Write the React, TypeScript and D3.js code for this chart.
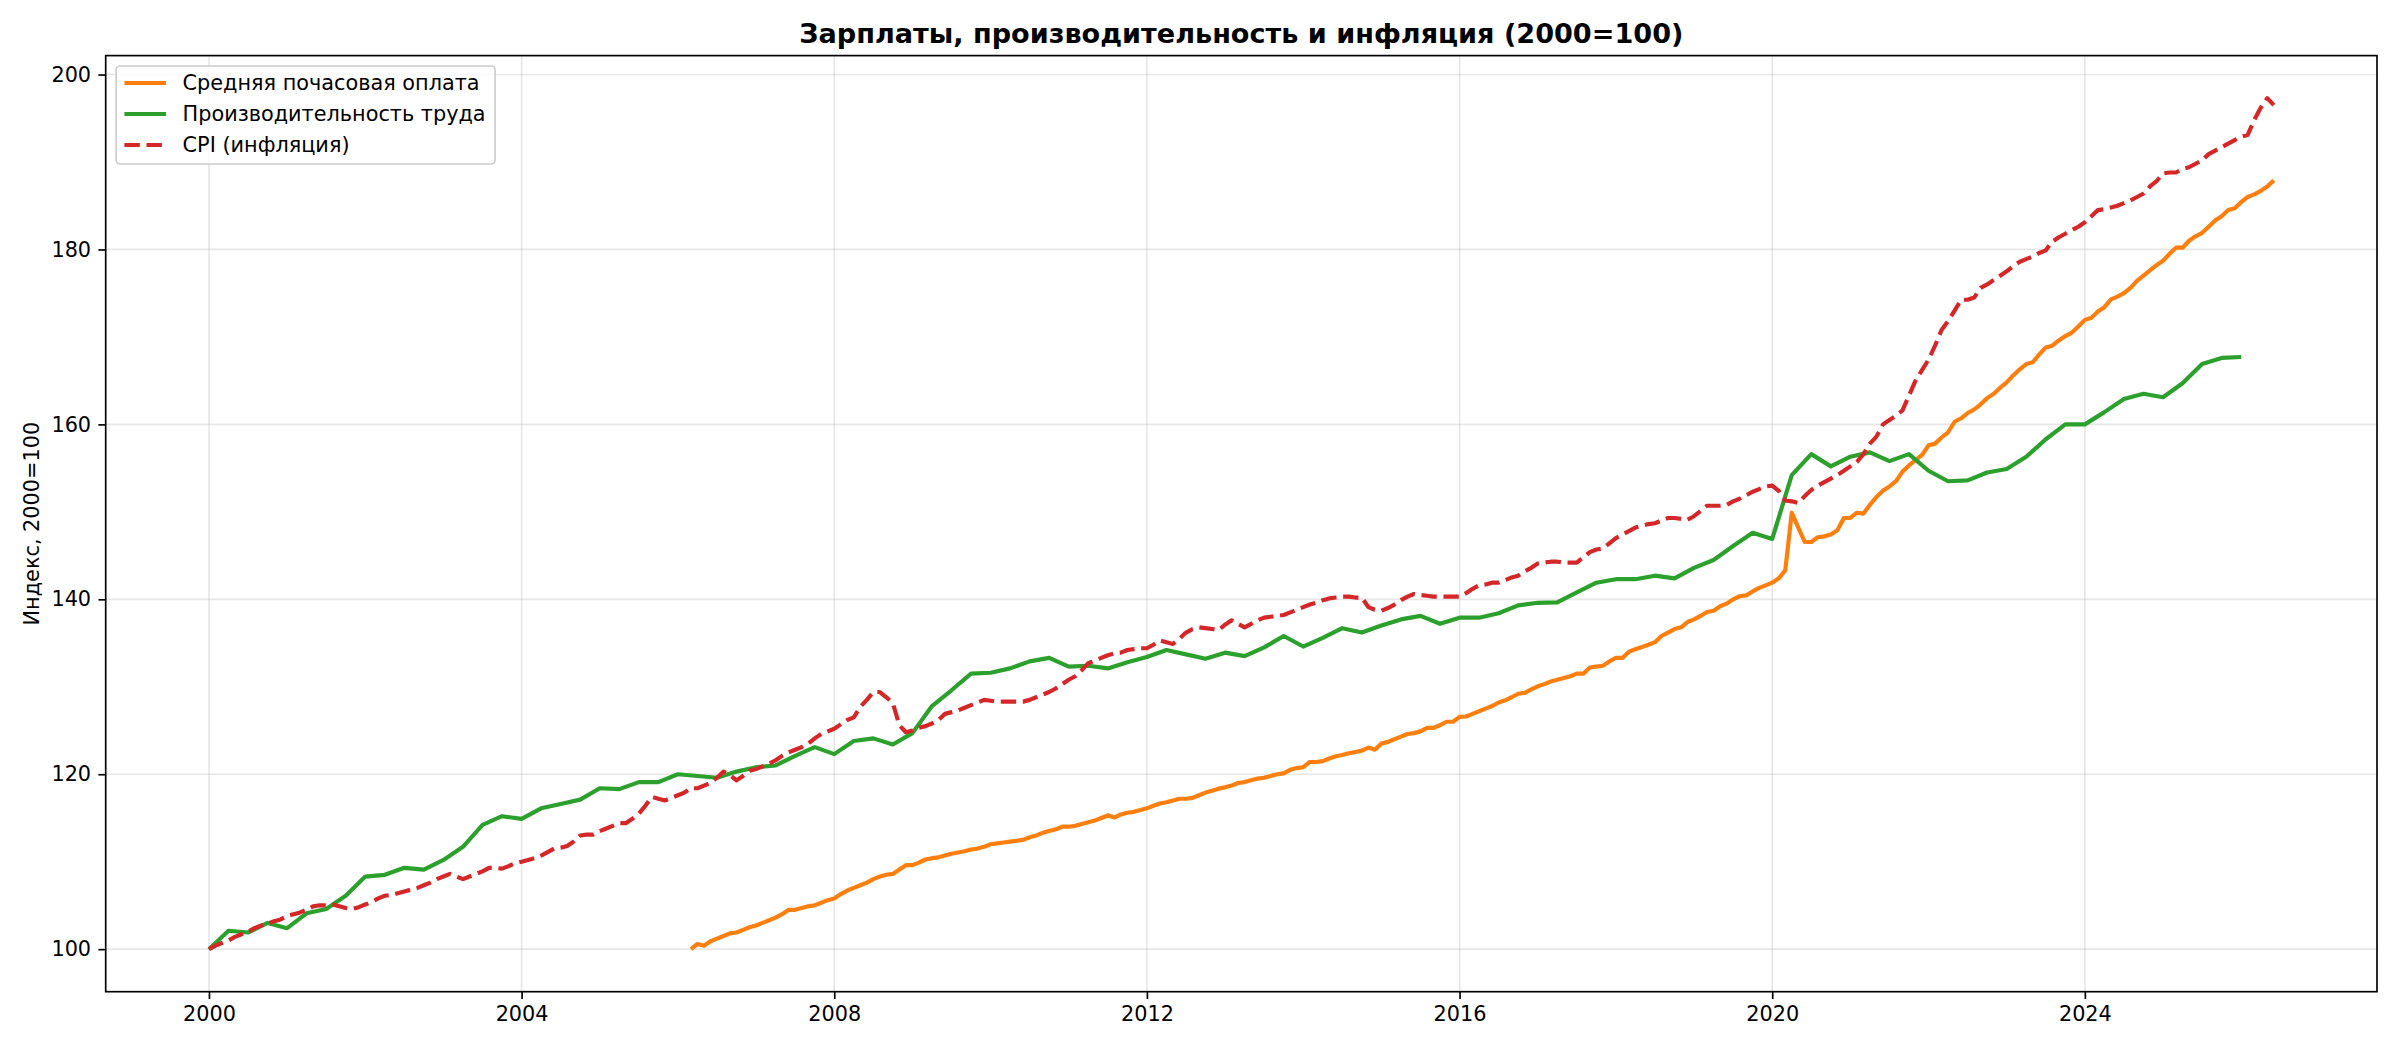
import * as d3 from "d3";
import { useEffect, useRef } from "react";

const title = "Зарплаты, производительность и инфляция (2000=100)";
const yLabel = "Индекс, 2000=100";
const seriesNames = ["Средняя почасовая оплата", "Производительность труда", "CPI (инфляция)"];
const seriesColors = ["#ff7f0e", "#2ca02c", "#d62728"];
const xTicks = [2000, 2004, 2008, 2012, 2016, 2020, 2024];
const yTicks = [100, 120, 140, 160, 180, 200];

// monthly, from March 2006
const wageStart = 2006 + 2 / 12;
const wageValues = [
  100.0, 100.6, 100.4, 100.9, 101.2, 101.5, 101.8, 101.9, 102.2, 102.5,
  102.7, 103.0, 103.3, 103.6, 104.0, 104.5, 104.5, 104.7, 104.9, 105.0, 105.3, 105.6,
  105.8, 106.3, 106.7, 107.0, 107.3, 107.6, 108.0, 108.3, 108.5, 108.6, 109.1, 109.6,
  109.6, 109.9, 110.25, 110.4, 110.5, 110.7, 110.9, 111.05, 111.2, 111.4, 111.5, 111.7,
  112.0, 112.1, 112.2, 112.3, 112.4, 112.5, 112.8, 113.0, 113.3, 113.5, 113.7, 114.0,
  114.0, 114.1, 114.3, 114.5, 114.7, 115.0, 115.3, 115.05, 115.4, 115.6, 115.7, 115.9,
  116.1, 116.4, 116.65, 116.8, 117.0, 117.2, 117.2, 117.3, 117.6, 117.9, 118.1, 118.35,
  118.5, 118.7, 119.0, 119.1, 119.3, 119.5, 119.6, 119.8, 120.0, 120.1, 120.5, 120.7,
  120.8, 121.4, 121.4, 121.5, 121.8, 122.05, 122.2, 122.4, 122.55, 122.7, 123.05, 122.8,
  123.5, 123.7, 124.0, 124.3, 124.6, 124.7, 124.9, 125.3, 125.3, 125.6, 126.0, 126.0,
  126.55, 126.6, 126.9, 127.2, 127.5, 127.8, 128.2, 128.45, 128.8, 129.2, 129.3, 129.7,
  130.05, 130.3, 130.6, 130.8, 131.0, 131.2, 131.5, 131.5, 132.2, 132.3, 132.4, 132.9,
  133.3, 133.3, 134.0, 134.3, 134.55, 134.8, 135.1, 135.8, 136.2, 136.6, 136.8, 137.4,
  137.7, 138.1, 138.55, 138.7, 139.2, 139.5, 140.0, 140.35, 140.45, 140.9, 141.3, 141.6,
  141.9, 142.4, 143.3, 149.9, 148.2, 146.55, 146.55, 147.1, 147.2, 147.4, 147.9, 149.3,
  149.3, 149.9, 149.8, 150.8, 151.7, 152.4, 152.9, 153.5, 154.6, 155.3, 155.9, 156.5,
  157.6, 157.8, 158.5, 159.1, 160.3, 160.7, 161.3, 161.7, 162.3, 163.0, 163.5, 164.2,
  164.8, 165.6, 166.3, 166.9, 167.1, 168.0, 168.8, 169.0, 169.6, 170.1, 170.5, 171.2,
  171.95, 172.2, 172.9, 173.4, 174.3, 174.6, 175.0, 175.6, 176.4, 177.0, 177.6, 178.2,
  178.7, 179.5, 180.2, 180.2, 181.0, 181.5, 181.9, 182.6, 183.3, 183.8, 184.5, 184.7,
  185.4, 186.0, 186.3, 186.7, 187.2, 187.9,
];

// quarterly, from Q1 2000
const prodStart = 2000;
const prodValues = [
  100.0, 102.1, 101.9, 103.0,
  102.4, 104.1, 104.6, 106.1,
  108.3, 108.5, 109.3, 109.1,
  110.2, 111.7, 114.2, 115.2,
  114.9, 116.1, 116.6, 117.1,
  118.4, 118.3, 119.1, 119.1,
  120.0, 119.8, 119.6, 120.3,
  120.8, 121.0, 122.1, 123.1,
  122.3, 123.8, 124.1, 123.4,
  124.7, 127.8, 129.6, 131.5,
  131.6, 132.1, 132.9, 133.3,
  132.3, 132.4, 132.1, 132.8,
  133.4, 134.2, 133.7, 133.2,
  133.9, 133.5, 134.5, 135.8,
  134.6, 135.6, 136.7, 136.2,
  137.0, 137.7, 138.1, 137.2,
  137.9, 137.9, 138.4, 139.3,
  139.6, 139.65, 140.8, 141.9,
  142.3, 142.3, 142.7, 142.4,
  143.6, 144.5, 146.1, 147.6,
  146.9, 154.2, 156.6, 155.2,
  156.3, 156.8, 155.8, 156.6,
  154.7, 153.5, 153.6, 154.5,
  154.9, 156.3, 158.3, 160.0,
  160.0, 161.4, 162.9, 163.5,
  163.1, 164.7, 166.9, 167.6,
  167.7,
];

// monthly, from January 2000
const cpiStart = 2000;
const cpiValues = [
  100.0, 100.4, 100.7, 101.0, 101.4, 101.7, 102.0, 102.4, 102.7, 102.9, 103.2, 103.4,
  103.8, 104.0, 104.2, 104.5, 104.9, 105.0, 105.0, 105.1, 104.9, 104.7, 104.6, 104.8,
  105.1, 105.4, 105.8, 106.1, 106.2, 106.4, 106.6, 106.8, 107.0, 107.3, 107.6, 108.0,
  108.3, 108.6, 108.3, 108.0, 108.3, 108.6, 108.9, 109.3, 109.3, 109.2, 109.5, 109.8,
  110.0, 110.2, 110.4, 110.7, 111.1, 111.5, 111.6, 111.8, 112.3, 113.0, 113.1, 113.1,
  113.5, 113.8, 114.1, 114.4, 114.4, 114.9, 115.5, 116.4, 117.4, 117.2, 117.0, 117.3,
  117.6, 117.9, 118.4, 118.4, 118.7, 119.0, 119.6, 120.3, 119.9, 119.3, 119.8, 120.4,
  120.6, 120.9, 121.2, 121.6, 122.1, 122.5, 122.8, 123.1, 123.5, 124.1, 124.6, 124.9,
  125.2, 125.7, 126.2, 126.5, 127.7, 128.5, 129.4, 129.4, 128.8, 128.1, 125.6, 124.8,
  125.0, 125.3, 125.5, 125.8, 126.2, 126.9, 127.1, 127.3, 127.6, 127.9, 128.2, 128.5,
  128.4, 128.3, 128.3, 128.3, 128.3, 128.3, 128.5, 128.8, 129.1, 129.4, 129.8, 130.3,
  130.8, 131.2, 131.9, 132.7, 133.0, 133.3, 133.6, 133.8, 133.9, 134.2, 134.3, 134.4,
  134.4, 134.8, 135.3, 135.1, 134.9, 135.5, 136.2, 136.6, 136.8, 136.7, 136.6, 136.5,
  137.1, 137.6, 137.2, 136.8, 137.2, 137.6, 137.9, 138.0, 138.1, 138.2, 138.5, 138.8,
  139.1, 139.4, 139.6, 139.9, 140.1, 140.2, 140.3, 140.3, 140.2, 140.2, 139.1, 138.8,
  138.7, 139.0, 139.4, 139.9, 140.3, 140.6, 140.5, 140.4, 140.3, 140.3, 140.3, 140.3,
  140.3, 140.7, 141.2, 141.6, 141.7, 141.9, 141.9, 142.2, 142.5, 142.7, 143.2, 143.6,
  144.1, 144.2, 144.3, 144.3, 144.2, 144.2, 144.2, 144.8, 145.4, 145.7, 145.8, 146.4,
  147.0, 147.4, 147.8, 148.2, 148.4, 148.6, 148.7, 149.0, 149.3, 149.3, 149.2, 149.1,
  149.5, 150.1, 150.7, 150.7, 150.7, 150.8, 151.2, 151.5, 151.9, 152.3, 152.6, 152.9,
  153.0, 152.4, 151.3, 151.2, 151.0, 151.8, 152.5, 153.0, 153.4, 153.8, 154.2, 154.7,
  155.2, 155.7, 156.6, 157.8, 158.6, 160.0, 160.5, 161.0, 161.6, 163.3, 165.0, 166.2,
  167.4, 169.0, 170.8, 171.8, 173.0, 174.25, 174.25, 174.5, 175.6, 176.0, 176.5, 177.0,
  177.5, 178.1, 178.6, 178.9, 179.2, 179.6, 179.9, 180.9, 181.4, 181.8, 182.2, 182.6,
  183.1, 183.8, 184.5, 184.6, 184.8, 185.0, 185.3, 185.6, 186.0, 186.4, 187.2, 187.8,
  188.7, 188.8, 188.8, 189.2, 189.4, 189.8, 190.2, 190.9, 191.3, 191.7, 192.1, 192.5,
  192.9, 193.1, 194.8, 196.2, 197.3, 196.5,
];

type Pt = { t: number; v: number };
const toPoints = (start: number, step: number, vals: number[]): Pt[] =>
  vals.map((v, i) => ({ t: start + i * step, v }));

export default function App() {
  const svgRef = useRef<SVGSVGElement | null>(null);
  const width = 2400;
  const height = 1050;
  const margin = { top: 55.6, right: 23, bottom: 58.3, left: 105.7 };

  useEffect(() => {
    if (!svgRef.current) return;
    const svg = d3.select(svgRef.current);
    svg.selectAll("*").remove();

    const series = [
      toPoints(wageStart, 1 / 12, wageValues),
      toPoints(prodStart, 1 / 4, prodValues),
      toPoints(cpiStart, 1 / 12, cpiValues),
    ];
    const all = series.flat();
    const [tMin, tMax] = d3.extent(all, (d) => d.t) as [number, number];
    const [vMin, vMax] = d3.extent(all, (d) => d.v) as [number, number];
    const tPad = (tMax - tMin) * 0.05;
    const vPad = (vMax - vMin) * 0.05;

    const x = d3
      .scaleLinear()
      .domain([tMin - tPad, tMax + tPad])
      .range([margin.left, width - margin.right]);
    const y = d3
      .scaleLinear()
      .domain([vMin - vPad, vMax + vPad])
      .range([height - margin.bottom, margin.top]);

    const font = "DejaVu Sans, sans-serif";
    const fs = 20.8;

    svg.append("rect").attr("width", width).attr("height", height).attr("fill", "white");

    // grid
    const grid = svg.append("g").attr("stroke", "#b0b0b0").attr("stroke-opacity", 0.3).attr("stroke-width", 1.67);
    grid
      .selectAll(".gx")
      .data(xTicks)
      .enter()
      .append("line")
      .attr("x1", (d) => x(d))
      .attr("x2", (d) => x(d))
      .attr("y1", margin.top)
      .attr("y2", height - margin.bottom);
    grid
      .selectAll(".gy")
      .data(yTicks)
      .enter()
      .append("line")
      .attr("x1", margin.left)
      .attr("x2", width - margin.right)
      .attr("y1", (d) => y(d))
      .attr("y2", (d) => y(d));

    // lines
    const line = d3
      .line<Pt>()
      .x((d) => x(d.t))
      .y((d) => y(d.v));
    series.forEach((s, i) => {
      svg
        .append("path")
        .datum(s)
        .attr("fill", "none")
        .attr("stroke", seriesColors[i])
        .attr("stroke-width", 4.17)
        .attr("stroke-linejoin", "round")
        .attr("stroke-dasharray", i === 2 ? "15.4,6.67" : null)
        .attr("d", line);
    });

    // axes
    const xAxis = d3
      .axisBottom(x)
      .tickValues(xTicks)
      .tickFormat((d) => String(d))
      .tickSize(7.3)
      .tickPadding(7.3);
    const gx = svg
      .append("g")
      .attr("transform", `translate(0, ${height - margin.bottom})`)
      .call(xAxis);
    const yAxis = d3
      .axisLeft(y)
      .tickValues(yTicks)
      .tickFormat((d) => String(d))
      .tickSize(7.3)
      .tickPadding(7.3);
    const gy = svg.append("g").attr("transform", `translate(${margin.left}, 0)`).call(yAxis);
    [gx, gy].forEach((g) => {
      g.select(".domain").remove();
      g.selectAll("line").attr("stroke", "black").attr("stroke-width", 1.67);
      g.selectAll("text").attr("font-family", font).attr("font-size", fs).attr("fill", "black");
    });

    // frame
    svg
      .append("rect")
      .attr("x", margin.left)
      .attr("y", margin.top)
      .attr("width", width - margin.left - margin.right)
      .attr("height", height - margin.top - margin.bottom)
      .attr("fill", "none")
      .attr("stroke", "black")
      .attr("stroke-width", 1.67);

    // title
    svg
      .append("text")
      .attr("x", (margin.left + width - margin.right) / 2)
      .attr("y", 43)
      .attr("text-anchor", "middle")
      .attr("font-family", font)
      .attr("font-weight", "bold")
      .attr("font-size", 27.1)
      .text(title);

    // y label
    svg
      .append("text")
      .attr("transform", `translate(39, ${(margin.top + height - margin.bottom) / 2}) rotate(-90)`)
      .attr("text-anchor", "middle")
      .attr("font-family", font)
      .attr("font-size", fs)
      .text(yLabel);

    // legend
    const lg = svg.append("g").attr("transform", `translate(${margin.left + 10.4}, ${margin.top + 10.4})`);
    lg.append("rect")
      .attr("width", 379)
      .attr("height", 98)
      .attr("rx", 4)
      .attr("fill", "white")
      .attr("fill-opacity", 0.8)
      .attr("stroke", "#cccccc")
      .attr("stroke-width", 1.67);
    seriesNames.forEach((name, i) => {
      const cy = 17 + i * 31;
      lg.append("line")
        .attr("x1", 8.3)
        .attr("x2", 49.9)
        .attr("y1", cy)
        .attr("y2", cy)
        .attr("stroke", seriesColors[i])
        .attr("stroke-width", 4.17)
        .attr("stroke-dasharray", i === 2 ? "15.4,6.67" : null);
      lg.append("text")
        .attr("x", 66.5)
        .attr("y", cy)
        .attr("dy", "0.36em")
        .attr("font-family", font)
        .attr("font-size", fs)
        .text(name);
    });
  }, []);

  return (
    <svg
      ref={svgRef}
      width={width}
      height={height}
      style={{ position: "absolute", left: 0, top: 0, display: "block" }}
    />
  );
}
